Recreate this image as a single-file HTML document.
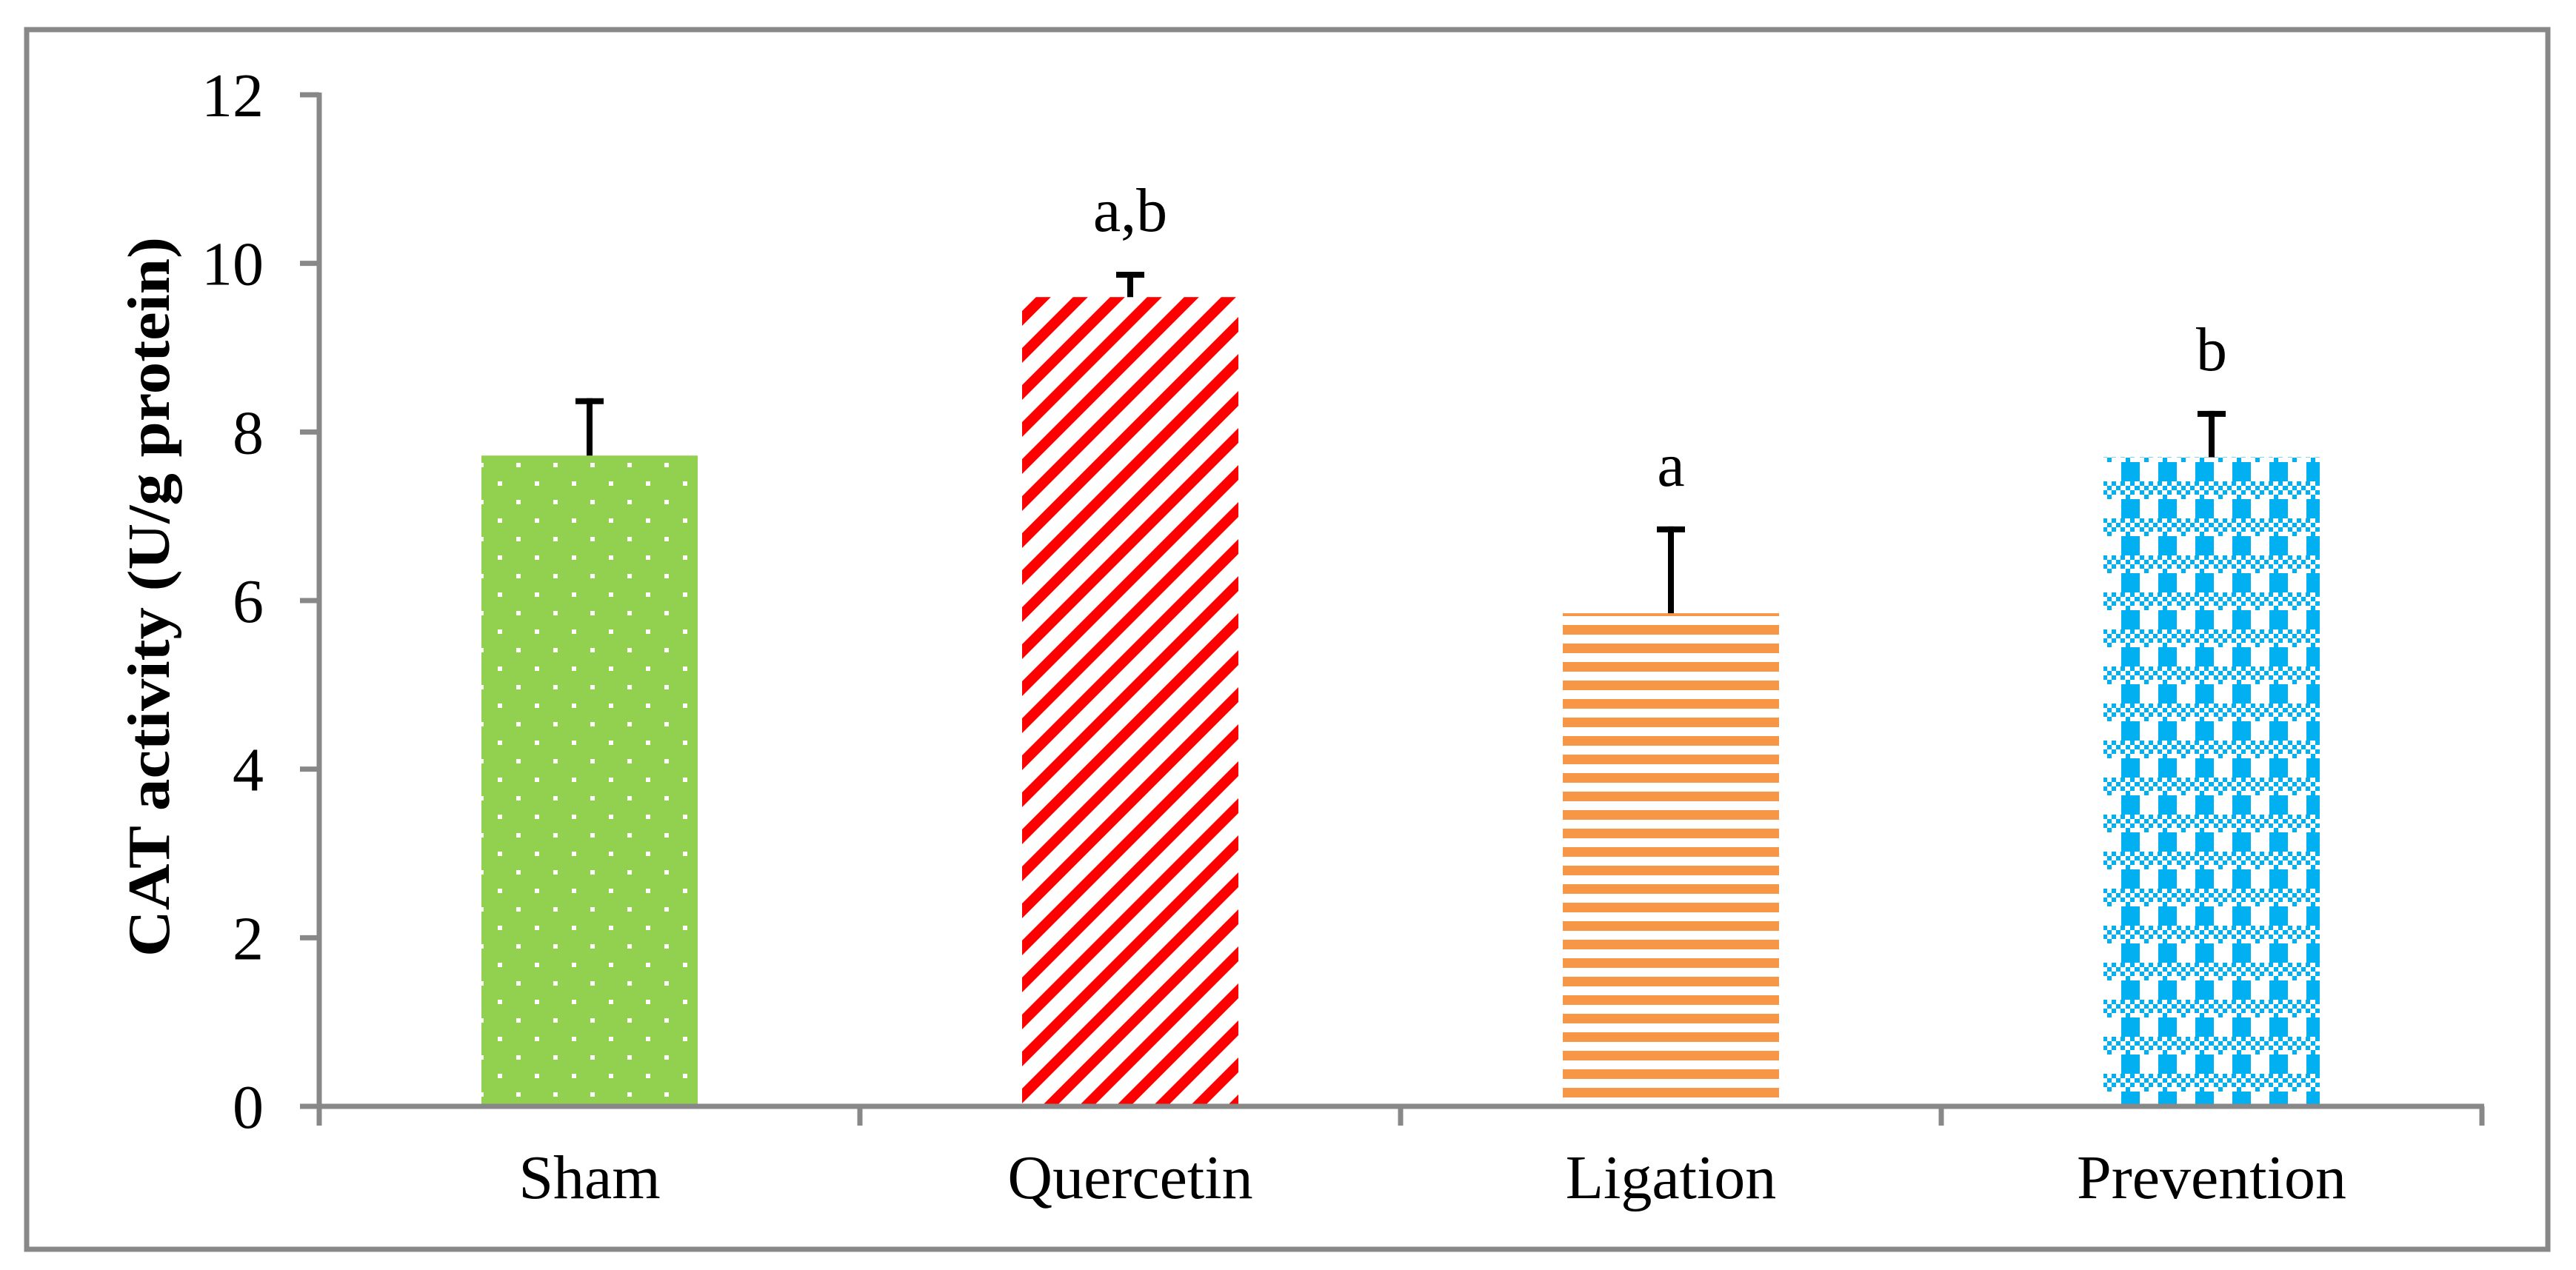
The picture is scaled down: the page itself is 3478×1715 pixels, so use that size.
<!DOCTYPE html>
<html><head><meta charset="utf-8"><style>
html,body{margin:0;padding:0;background:#fff;}
svg{display:block;}
text{font-family:"Liberation Serif",serif;fill:#000;}
</style></head><body>
<svg id="chart" width="3478" height="1715" viewBox="0 0 3478 1715" xmlns="http://www.w3.org/2000/svg">
<defs>
<pattern id="pat-green" patternUnits="userSpaceOnUse" width="50" height="50" x="0" y="0">
<rect width="50" height="50" fill="#92d050"/>
<rect x="22" y="0" width="6" height="6" fill="#fff"/>
<rect x="47" y="25" width="6" height="6" fill="#fff"/>
<rect x="-3" y="25" width="6" height="6" fill="#fff"/>
</pattern>
<pattern id="pat-red" patternUnits="userSpaceOnUse" width="50" height="50">
<rect width="50" height="50" fill="#fff"/>
<polygon points="0,50 20,50 70,0 50,0" fill="#ff0000"/>
<polygon points="-50,50 -30,50 20,0 0,0" fill="#ff0000"/>
</pattern>
<pattern id="pat-orange" patternUnits="userSpaceOnUse" width="50" height="25" y="1494">
<rect width="50" height="25" fill="#fff"/>
<rect y="0" width="50" height="13" fill="#f79646"/>
</pattern>
<pattern id="pat-blue" patternUnits="userSpaceOnUse" width="50" height="50" x="2839" y="0">
<rect width="50" height="50" fill="#fff"/>
<rect x="0" y="0" width="6" height="6" fill="#00b0f0"/><rect x="12" y="0" width="6" height="6" fill="#00b0f0"/><rect x="24" y="0" width="6" height="6" fill="#00b0f0"/><rect x="37" y="0" width="6" height="6" fill="#00b0f0"/>
<rect x="6" y="6" width="6" height="6" fill="#00b0f0"/><rect x="18" y="6" width="6" height="6" fill="#00b0f0"/><rect x="31" y="6" width="6" height="6" fill="#00b0f0"/><rect x="43" y="6" width="7" height="6" fill="#00b0f0"/>
<rect x="0" y="12" width="6" height="6" fill="#00b0f0"/><rect x="12" y="12" width="6" height="6" fill="#00b0f0"/><rect x="24" y="12" width="6" height="6" fill="#00b0f0"/><rect x="37" y="12" width="6" height="6" fill="#00b0f0"/>
<rect x="6" y="18" width="6" height="6" fill="#00b0f0"/><rect x="31" y="18" width="6" height="6" fill="#00b0f0"/>
<rect x="25" y="24" width="25" height="26" fill="#00b0f0"/>
</pattern>
</defs>
<rect x="36" y="40" width="3404" height="1647" fill="#fff" stroke="#888" stroke-width="7"/>
<g id="plot"></g>
</svg>
<script>
const categories = ["Sham", "Quercetin", "Ligation", "Prevention"];
const values = [7.72, 9.6, 5.85, 7.7];
const errors = [0.68, 0.3, 1.03, 0.55];
const sigLabels = ["", "a,b", "a", "b"];
const yTicks = [0, 2, 4, 6, 8, 10, 12];
const fills = ["url(#pat-green)", "url(#pat-red)", "url(#pat-orange)", "url(#pat-blue)"];

const NS = "http://www.w3.org/2000/svg";
const g = document.getElementById("plot");
const X0 = 431, X1 = 3351, Y0 = 1494, YTOP = 128, YMAX = 12;
const band = (X1 - X0) / categories.length;
const barW = band * 0.4;
function yScale(v){ return Y0 - (v / YMAX) * (Y0 - YTOP); }
function xCenter(i){ return X0 + band * (i + 0.5); }
function mk(tag, attrs){ const e = document.createElementNS(NS, tag); for (const k in attrs) e.setAttribute(k, attrs[k]); g.appendChild(e); return e; }

categories.forEach((c, i) => {
  const y = yScale(values[i]);
  const r = mk("rect", {x: xCenter(i) - barW/2, y: y, width: barW, height: Y0 - y, fill: fills[i]});
  
  
  const ye = yScale(values[i] + errors[i]);
  const st = mk("line", {x1: xCenter(i), x2: xCenter(i), y1: y, y2: ye, stroke: "#000", "stroke-width": 8});
  
  
  const cap = mk("line", {x1: xCenter(i) - 19, x2: xCenter(i) + 19, y1: ye + 4, y2: ye + 4, stroke: "#000", "stroke-width": 8});
  
  
  if (sigLabels[i]) {
    const t = mk("text", {x: xCenter(i), y: ye - 55, "text-anchor": "middle", "font-size": 84});
    t.textContent = sigLabels[i];
    
    
  }
  const lab = mk("text", {x: xCenter(i), y: 1618, "text-anchor": "middle", "font-size": 84});
  lab.textContent = c;
  
  
});

const ya = mk("line", {x1: X0, x2: X0, y1: YTOP - 3, y2: Y0 + 3, stroke: "#888", "stroke-width": 7});


const xa = mk("line", {x1: X0 - 3, x2: X1 + 3, y1: Y0, y2: Y0, stroke: "#888", "stroke-width": 7});


yTicks.forEach(v => {
  const y = yScale(v);
  const tk = mk("line", {x1: X0 - 26, x2: X0, y1: y, y2: y, stroke: "#888", "stroke-width": 7});
  
  
  const t = mk("text", {x: 356, y: y + 29, "text-anchor": "end", "font-size": 84});
  t.textContent = v;
  
  
});
for (let i = 0; i <= categories.length; i++) {
  const x = X0 + band * i;
  const tk = mk("line", {x1: x, x2: x, y1: Y0, y2: 1520, stroke: "#888", "stroke-width": 7});
  
  
}
const title = mk("text", {x: 0, y: 0, transform: "translate(228,806) rotate(-90)", "text-anchor": "middle", "font-size": 80, "font-weight": "bold", textLength: 972, lengthAdjust: "spacingAndGlyphs"});
title.textContent = "CAT activity (U/g protein)";


</script>
</body></html>
